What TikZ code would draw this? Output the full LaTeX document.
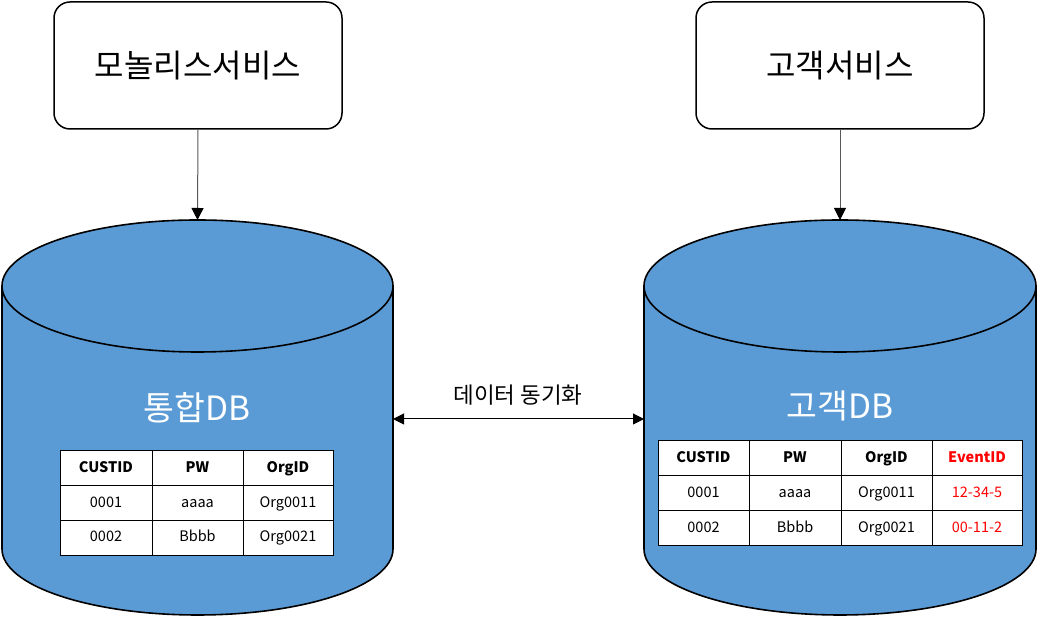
\documentclass[tikz,border=0pt]{standalone}
\usepackage{fontspec}
\setmainfont{Noto Sans CJK KR}
\usetikzlibrary{arrows.meta}
\definecolor{dbblue}{HTML}{5B9BD5}
\definecolor{evred}{HTML}{FF0000}
\tikzset{
  svcbox/.style={draw=black, line width=1.5pt, rounded corners=16pt, fill=white,
    minimum width=288pt, minimum height=127pt, inner sep=0pt, font=\fontsize{32}{35}\selectfont},
  conn/.style={draw=black!65, line width=1pt, -{Triangle[length=12pt,width=12pt,color=black]}},
  sync/.style={draw=black, line width=1pt, {Triangle[length=11pt,width=11pt]}-{Triangle[length=11pt,width=11pt]}},
  dbshape/.style={fill=dbblue, draw=black, line width=1.6pt},
  dblabel/.style={text=white, font=\fontsize{33.5}{36}\selectfont, inner sep=0pt},
  cell/.style={draw=black, line width=1pt, fill=white, inner sep=0pt,
    minimum height=35pt, text height=10.5pt, text depth=2.5pt, font=\fontsize{14.5}{16}\selectfont},
  hcell/.style={cell, font=\fontsize{14.5}{16}\selectfont\bfseries},
  synclabel/.style={font=\fontsize{22.5}{25}\selectfont, inner sep=0pt}
}
\begin{document}
\begin{tikzpicture}[x=1pt,y=1pt]
\useasboundingbox (0,0) rectangle (1037,617);
% service boxes
\node[svcbox] (svc1) at (198,551.5) {모놀리스서비스};
\node[svcbox] (svc2) at (840,551.5) {고객서비스};
% cylinders
\foreach \cx/\rx in {197.5/195.5, 840/196}{
  \path[dbshape] (\cx-\rx,331) -- (\cx-\rx,68) arc[start angle=180,end angle=360,x radius=\rx pt,y radius=66pt] -- (\cx+\rx,331) -- cycle;
  \path[dbshape] (\cx,331) ellipse[x radius=\rx pt, y radius=66pt];
}
\coordinate (db1top) at (197.5,397);
\coordinate (db2top) at (840,397);
\coordinate (db1east) at (393,198);
\coordinate (db2west) at (644,198);
\node[dblabel] (db1) at (197,209) {통합DB};
\node[dblabel] (db2) at (840,211) {고객DB};
% connectors
\draw[conn] (svc1.south) -- (db1top);
\draw[conn] (svc2.south) -- (db2top);
\draw[sync] (db1east) -- (db2west);
\node[synclabel] (synct) at (518,222) {데이터 동기화};
% left table
\node[hcell, minimum width=92pt] (a11) at (106,148.5) {CUSTID};
\node[hcell, minimum width=91pt] (a12) at (197.5,148.5) {PW};
\node[hcell, minimum width=90pt] (a13) at (288,148.5) {OrgID};
\node[cell, minimum width=92pt] (a21) at (106,113.5) {0001};
\node[cell, minimum width=91pt] (a22) at (197.5,113.5) {aaaa};
\node[cell, minimum width=90pt] (a23) at (288,113.5) {Org0011};
\node[cell, minimum width=92pt] (a31) at (106,79) {0002};
\node[cell, minimum width=91pt] (a32) at (197.5,79) {Bbbb};
\node[cell, minimum width=90pt] (a33) at (288,79) {Org0021};
% right table
\node[hcell, minimum width=91pt] (b11) at (703.5,158.5) {CUSTID};
\node[hcell, minimum width=92pt] (b12) at (795,158.5) {PW};
\node[hcell, minimum width=91pt] (b13) at (886.5,158.5) {OrgID};
\node[hcell, minimum width=90pt, text=evred] (b14) at (977,158.5) {EventID};
\node[cell, minimum width=91pt] (b21) at (703.5,123.5) {0001};
\node[cell, minimum width=92pt] (b22) at (795,123.5) {aaaa};
\node[cell, minimum width=91pt] (b23) at (886.5,123.5) {Org0011};
\node[cell, minimum width=90pt, text=evred] (b24) at (977,123.5) {12-34-5};
\node[cell, minimum width=91pt] (b31) at (703.5,88.5) {0002};
\node[cell, minimum width=92pt] (b32) at (795,88.5) {Bbbb};
\node[cell, minimum width=91pt] (b33) at (886.5,88.5) {Org0021};
\node[cell, minimum width=90pt, text=evred] (b34) at (977,88.5) {00-11-2};
\end{tikzpicture}
\end{document}
